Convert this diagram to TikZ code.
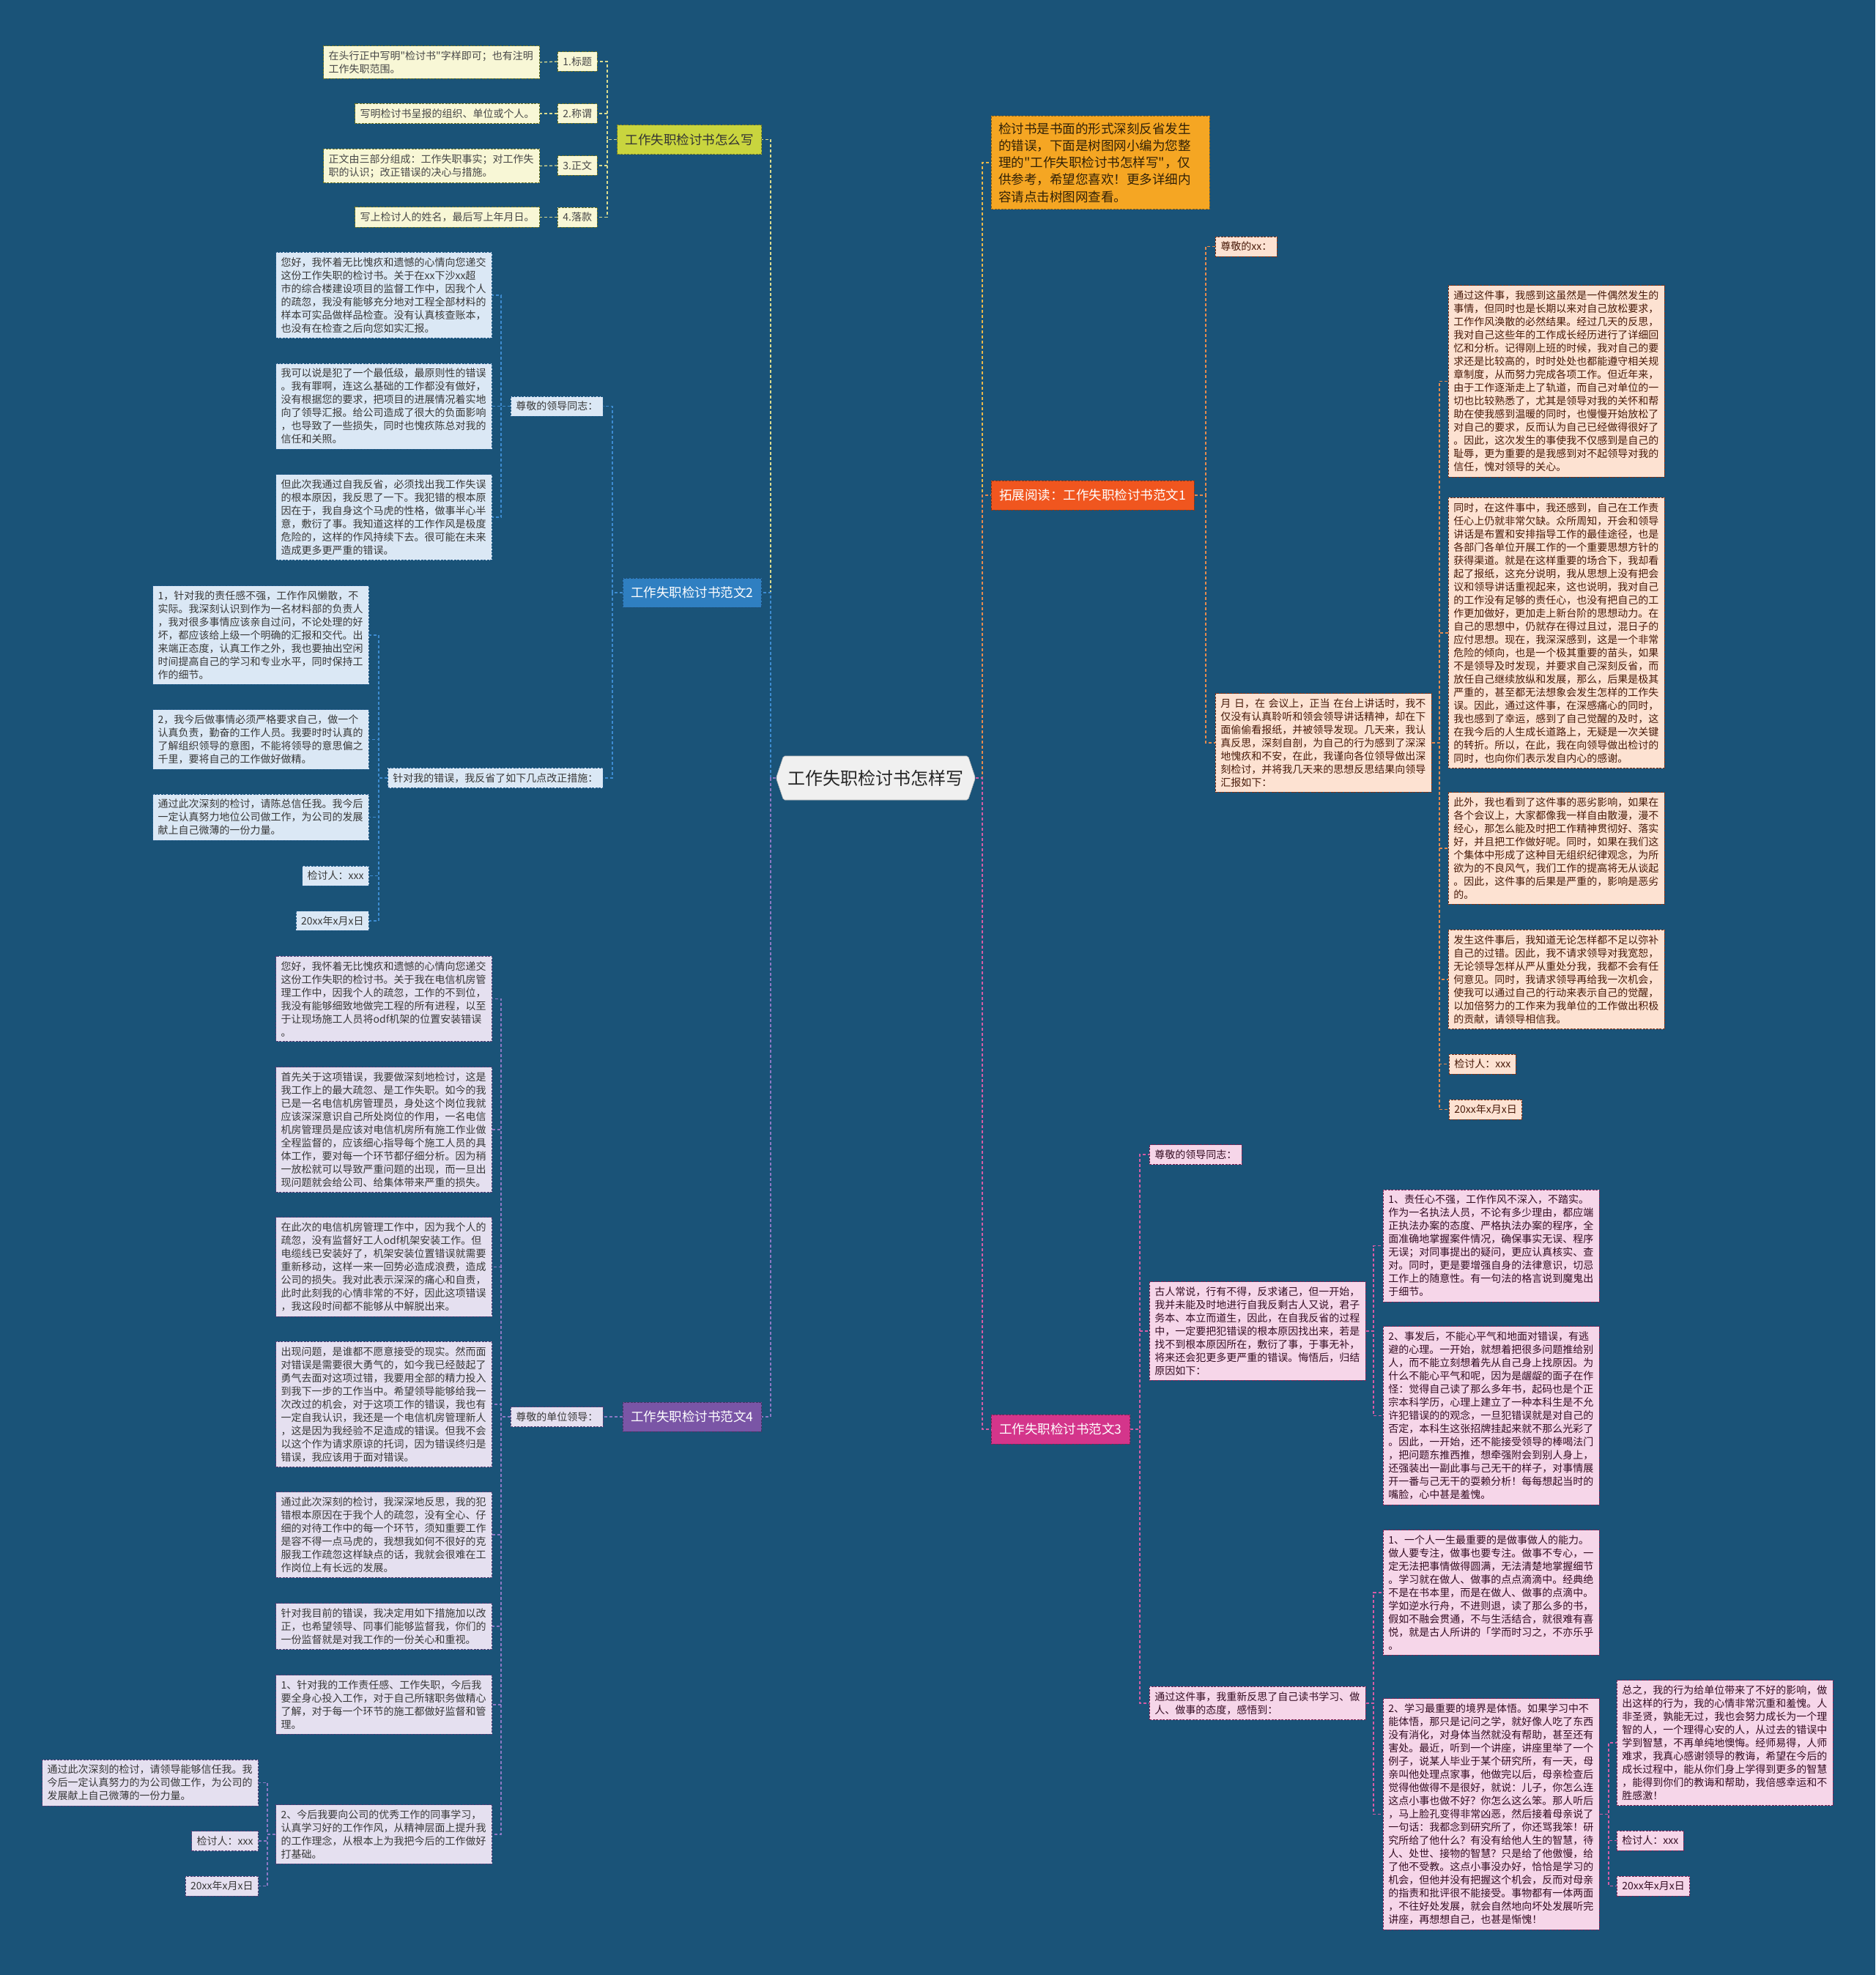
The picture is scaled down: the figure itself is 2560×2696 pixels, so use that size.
\documentclass[tikz,border=0pt]{standalone}
\usepackage{fontspec}
\newfontfamily\cjk{Noto Sans CJK SC}
\usetikzlibrary{shapes.symbols}
\definecolor{bgc}{HTML}{1A5378}
\definecolor{yfill}{HTML}{C9D53E}
\definecolor{ylfill}{HTML}{F8F7D6}
\definecolor{yline}{HTML}{DADB8E}
\definecolor{bfill}{HTML}{2F7FC1}
\definecolor{blfill}{HTML}{DBE8F5}
\definecolor{bline}{HTML}{3D8BD0}
\definecolor{pfill}{HTML}{7A55A6}
\definecolor{plfill}{HTML}{E5E0F0}
\definecolor{pline}{HTML}{8C78C4}
\definecolor{ifill}{HTML}{F5A623}
\definecolor{iline}{HTML}{E8B84A}
\definecolor{ofill}{HTML}{F0561F}
\definecolor{olfill}{HTML}{FDE2D2}
\definecolor{oline}{HTML}{E58A4E}
\definecolor{kfill}{HTML}{D4358B}
\definecolor{klfill}{HTML}{F6D6E9}
\definecolor{kline}{HTML}{D55CA5}
\tikzset{
  leaf/.style={draw, dash pattern=on 3pt off 1.5pt, line width=0.8pt, inner xsep=7pt, inner ysep=7pt, font=\cjk\fontsize{14}{18}\selectfont, align=left},
  yleaf/.style={leaf, fill=ylfill, draw=yfill!55!black, text=black!72},
  bleaf/.style={leaf, fill=blfill, draw=bfill!70!black, text=black!78},
  pleaf/.style={leaf, fill=plfill, draw=pfill!70!black, text=black!78},
  oleaf/.style={leaf, fill=olfill, draw=ofill!55!black, text=ofill!30!black},
  kleaf/.style={leaf, fill=klfill, draw=kfill!60!black, text=kfill!25!black},
  topic/.style={draw, dash pattern=on 3pt off 1.5pt, line width=0.8pt, inner xsep=11pt, inner ysep=4pt, minimum height=40pt, font=\cjk\fontsize{17.5}{21}\selectfont},
  conn/.style={dash pattern=on 4pt off 3pt, line width=1.3pt},
}
\begin{document}
\cjk
\begin{tikzpicture}[x=1pt,y=-1pt]
\useasboundingbox (0,0) rectangle (2560,2696);
\fill[bgc] (0,0) rectangle (2560,2696);

% trunk coordinates
\coordinate (tL) at (1052,0);
\coordinate (tR) at (1341,0);
\coordinate (tY) at (829,0);
\coordinate (tB1) at (836,0);
\coordinate (tBa) at (684,0);
\coordinate (tBb) at (517,0);
\coordinate (tP1) at (836,0);
\coordinate (tPa) at (684,0);
\coordinate (tPn) at (365,0);
\coordinate (tO) at (1646,0);
\coordinate (tOb) at (1965,0);
\coordinate (tK) at (1556,0);
\coordinate (tKb) at (1875,0);
\coordinate (tKs) at (2196,0);

% center
\node[signal, signal to=east and west, signal pointer angle=143, fill=black!6, draw=black!30, line width=0.6pt, rounded corners=2pt, minimum width=265pt, minimum height=60pt, inner xsep=6pt, font=\cjk\fontsize{24}{28}\selectfont, text=black!85] (c) at (1195.5,1062) {工作失职检讨书怎样写};

% level 1 topics
\node[topic, anchor=east, fill=yfill, draw=yfill!60!black, text=black!80] (b1) at (1040,190.5) {工作失职检讨书怎么写};
\node[topic, anchor=east, fill=bfill, draw=bfill!60!black, text=white] (b2) at (1040,809) {工作失职检讨书范文2};
\node[topic, anchor=east, fill=pfill, draw=pfill!60!black, text=white] (b4) at (1040,1934) {工作失职检讨书范文4};
\node[draw, dash pattern=on 3pt off 1.5pt, line width=0.8pt, anchor=west, fill=ifill, draw=ifill!60!black, text=ifill!20!black, text width=278pt, inner xsep=10pt, inner ysep=9pt, align=left, font=\cjk\fontsize{17.5}{23.3}\selectfont] (b5) at (1353,222) {检讨书是书面的形式深刻反省发生\\
的错误，下面是树图网小编为您整\\
理的"工作失职检讨书怎样写"，仅\\
供参考，希望您喜欢！更多详细内\\
容请点击树图网查看。};
\node[topic, anchor=west, fill=ofill, draw=ofill!60!black, text=white] (b6) at (1353,676) {拓展阅读：工作失职检讨书范文1};
\node[topic, anchor=west, fill=kfill, draw=kfill!60!black, text=white] (b7) at (1353,1951) {工作失职检讨书范文3};

% ---------- branch 1 (yellow) ----------
\node[yleaf, anchor=west] (y1l) at (761,84) {1.标题};
\node[yleaf, anchor=west] (y2l) at (761,155) {2.称谓};
\node[yleaf, anchor=west] (y3l) at (761,226) {3.正文};
\node[yleaf, anchor=west] (y4l) at (761,296.5) {4.落款};
\node[yleaf, anchor=east, text width=281pt] (y1b) at (737,85) {在头行正中写明"检讨书"字样即可；也有注明\\
工作失职范围。};
\node[yleaf, anchor=east] (y2b) at (737,155) {写明检讨书呈报的组织、单位或个人。};
\node[yleaf, anchor=east, text width=281pt] (y3b) at (737,226.5) {正文由三部分组成：工作失职事实；对工作失\\
职的认识；改正错误的决心与措施。};
\node[yleaf, anchor=east] (y4b) at (737,296.5) {写上检讨人的姓名，最后写上年月日。};

% ---------- branch 2 (blue) ----------
\node[bleaf, anchor=west] (la) at (697,554.5) {尊敬的领导同志：};
\node[bleaf, anchor=east, text width=281pt] (a1) at (672,403) {您好，我怀着无比愧疚和遗憾的心情向您递交\\
这份工作失职的检讨书。关于在xx下沙xx超\\
市的综合楼建设项目的监督工作中，因我个人\\
的疏忽，我没有能够充分地对工程全部材料的\\
样本可实品做样品检查。没有认真核查账本，\\
也没有在检查之后向您如实汇报。};
\node[bleaf, anchor=east, text width=281pt] (a2) at (672,554.5) {我可以说是犯了一个最低级，最原则性的错误\\
。我有罪啊，连这么基础的工作都没有做好，\\
没有根据您的要求，把项目的进展情况着实地\\
向了领导汇报。给公司造成了很大的负面影响\\
，也导致了一些损失，同时也愧疚陈总对我的\\
信任和关照。};
\node[bleaf, anchor=east, text width=281pt] (a3) at (672,706) {但此次我通过自我反省，必须找出我工作失误\\
的根本原因，我反思了一下。我犯错的根本原\\
因在于，我自身这个马虎的性格，做事半心半\\
意，敷衍了事。我知道这样的工作作风是极度\\
危险的，这样的作风持续下去。很可能在未来\\
造成更多更严重的错误。};
\node[bleaf, anchor=west] (lb) at (529,1062) {针对我的错误，我反省了如下几点改正措施：};
\node[bleaf, anchor=east, text width=281pt] (d1) at (504,867) {1，针对我的责任感不强，工作作风懒散，不\\
实际。我深刻认识到作为一名材料部的负责人\\
，我对很多事情应该亲自过问，不论处理的好\\
坏，都应该给上级一个明确的汇报和交代。出\\
来端正态度，认真工作之外，我也要抽出空闲\\
时间提高自己的学习和专业水平，同时保持工\\
作的细节。};
\node[bleaf, anchor=east, text width=281pt] (d2) at (504,1009.5) {2，我今后做事情必须严格要求自己，做一个\\
认真负责，勤奋的工作人员。我要时时认真的\\
了解组织领导的意图，不能将领导的意思偏之\\
千里，要将自己的工作做好做精。};
\node[bleaf, anchor=east, text width=281pt] (d3) at (504,1115.5) {通过此次深刻的检讨，请陈总信任我。我今后\\
一定认真努力地位公司做工作，为公司的发展\\
献上自己微薄的一份力量。};
\node[bleaf, anchor=east] (d4) at (504,1195.5) {检讨人：xxx};
\node[bleaf, anchor=east] (d5) at (504,1257) {20xx年x月x日};

% ---------- branch 4 (purple) ----------
\node[pleaf, anchor=west] (lc) at (697,1934) {尊敬的单位领导：};
\node[pleaf, anchor=east, text width=281pt] (g1) at (672,1363.5) {您好，我怀着无比愧疚和遗憾的心情向您递交\\
这份工作失职的检讨书。关于我在电信机房管\\
理工作中，因我个人的疏忽，工作的不到位，\\
我没有能够细致地做完工程的所有进程，以至\\
于让现场施工人员将odf机架的位置安装错误\\
。};
\node[pleaf, anchor=east, text width=281pt] (g2) at (672,1542) {首先关于这项错误，我要做深刻地检讨，这是\\
我工作上的最大疏忽、是工作失职。如今的我\\
已是一名电信机房管理员，身处这个岗位我就\\
应该深深意识自己所处岗位的作用，一名电信\\
机房管理员是应该对电信机房所有施工作业做\\
全程监督的，应该细心指导每个施工人员的具\\
体工作，要对每一个环节都仔细分析。因为稍\\
一放松就可以导致严重问题的出现，而一旦出\\
现问题就会给公司、给集体带来严重的损失。};
\node[pleaf, anchor=east, text width=281pt] (g3) at (672,1729.5) {在此次的电信机房管理工作中，因为我个人的\\
疏忽，没有监督好工人odf机架安装工作。但\\
电缆线已安装好了，机架安装位置错误就需要\\
重新移动，这样一来一回势必造成浪费，造成\\
公司的损失。我对此表示深深的痛心和自责，\\
此时此刻我的心情非常的不好，因此这项错误\\
，我这段时间都不能够从中解脱出来。};
\node[pleaf, anchor=east, text width=281pt] (g4) at (672,1917) {出现问题，是谁都不愿意接受的现实。然而面\\
对错误是需要很大勇气的，如今我已经鼓起了\\
勇气去面对这项过错，我要用全部的精力投入\\
到我下一步的工作当中。希望领导能够给我一\\
次改过的机会，对于这项工作的错误，我也有\\
一定自我认识，我还是一个电信机房管理新人\\
，这是因为我经验不足造成的错误。但我不会\\
以这个作为请求原谅的托词，因为错误终归是\\
错误，我应该用于面对错误。};
\node[pleaf, anchor=east, text width=281pt] (g5) at (672,2095) {通过此次深刻的检讨，我深深地反思，我的犯\\
错根本原因在于我个人的疏忽，没有全心、仔\\
细的对待工作中的每一个环节，须知重要工作\\
是容不得一点马虎的，我想我如何不很好的克\\
服我工作疏忽这样缺点的话，我就会很难在工\\
作岗位上有长远的发展。};
\node[pleaf, anchor=east, text width=281pt] (g6) at (672,2220) {针对我目前的错误，我决定用如下措施加以改\\
正，也希望领导、同事们能够监督我，你们的\\
一份监督就是对我工作的一份关心和重视。};
\node[pleaf, anchor=east, text width=281pt] (g7) at (672,2327) {1、针对我的工作责任感、工作失职，今后我\\
要全身心投入工作，对于自己所辖职务做精心\\
了解，对于每一个环节的施工都做好监督和管\\
理。};
\node[pleaf, anchor=east, text width=281pt] (g8) at (672,2504) {2、今后我要向公司的优秀工作的同事学习，\\
认真学习好的工作作风，从精神层面上提升我\\
的工作理念，从根本上为我把今后的工作做好\\
打基础。};
\node[pleaf, anchor=east, text width=281pt] (h1) at (353,2433.5) {通过此次深刻的检讨，请领导能够信任我。我\\
今后一定认真努力的为公司做工作，为公司的\\
发展献上自己微薄的一份力量。};
\node[pleaf, anchor=east] (h2) at (353,2513) {检讨人：xxx};
\node[pleaf, anchor=east] (h3) at (353,2574.5) {20xx年x月x日};

% ---------- branch right (orange) ----------
\node[oleaf, anchor=west] (oa) at (1659,336.5) {尊敬的xx：};
\node[oleaf, anchor=west, text width=281pt] (ob) at (1659,1014) {月 日，在 会议上，正当 在台上讲话时，我不\\
仅没有认真聆听和领会领导讲话精神，却在下\\
面偷偷看报纸，并被领导发现。几天来，我认\\
真反思，深刻自剖，为自己的行为感到了深深\\
地愧疚和不安，在此，我谨向各位领导做出深\\
刻检讨，并将我几天来的思想反思结果向领导\\
汇报如下：};
\node[oleaf, anchor=west, text width=281pt] (p1) at (1977,520.5) {通过这件事，我感到这虽然是一件偶然发生的\\
事情，但同时也是长期以来对自己放松要求，\\
工作作风涣散的必然结果。经过几天的反思，\\
我对自己这些年的工作成长经历进行了详细回\\
忆和分析。记得刚上班的时候，我对自己的要\\
求还是比较高的，时时处处也都能遵守相关规\\
章制度，从而努力完成各项工作。但近年来，\\
由于工作逐渐走上了轨道，而自己对单位的一\\
切也比较熟悉了，尤其是领导对我的关怀和帮\\
助在使我感到温暖的同时，也慢慢开始放松了\\
对自己的要求，反而认为自己已经做得很好了\\
。因此，这次发生的事使我不仅感到是自己的\\
耻辱，更为重要的是我感到对不起领导对我的\\
信任，愧对领导的关心。};
\node[oleaf, anchor=west, text width=281pt] (p2) at (1977,864) {同时，在这件事中，我还感到，自己在工作责\\
任心上仍就非常欠缺。众所周知，开会和领导\\
讲话是布置和安排指导工作的最佳途径，也是\\
各部门各单位开展工作的一个重要思想方针的\\
获得渠道。就是在这样重要的场合下，我却看\\
起了报纸，这充分说明，我从思想上没有把会\\
议和领导讲话重视起来，这也说明，我对自己\\
的工作没有足够的责任心，也没有把自己的工\\
作更加做好，更加走上新台阶的思想动力。在\\
自己的思想中，仍就存在得过且过，混日子的\\
应付思想。现在，我深深感到，这是一个非常\\
危险的倾向，也是一个极其重要的苗头，如果\\
不是领导及时发现，并要求自己深刻反省，而\\
放任自己继续放纵和发展，那么，后果是极其\\
严重的，甚至都无法想象会发生怎样的工作失\\
误。因此，通过这件事，在深感痛心的同时，\\
我也感到了幸运，感到了自己觉醒的及时，这\\
在我今后的人生成长道路上，无疑是一次关键\\
的转折。所以，在此，我在向领导做出检讨的\\
同时，也向你们表示发自内心的感谢。};
\node[oleaf, anchor=west, text width=281pt] (p3) at (1977,1158) {此外，我也看到了这件事的恶劣影响，如果在\\
各个会议上，大家都像我一样自由散漫，漫不\\
经心，那怎么能及时把工作精神贯彻好、落实\\
好，并且把工作做好呢。同时，如果在我们这\\
个集体中形成了这种目无组织纪律观念，为所\\
欲为的不良风气，我们工作的提高将无从谈起\\
。因此，这件事的后果是严重的，影响是恶劣\\
的。};
\node[oleaf, anchor=west, text width=281pt] (p4) at (1977,1337) {发生这件事后，我知道无论怎样都不足以弥补\\
自己的过错。因此，我不请求领导对我宽恕，\\
无论领导怎样从严从重处分我，我都不会有任\\
何意见。同时，我请求领导再给我一次机会，\\
使我可以通过自己的行动来表示自己的觉醒，\\
以加倍努力的工作来为我单位的工作做出积极\\
的贡献，请领导相信我。};
\node[oleaf, anchor=west] (p5) at (1978,1452.5) {检讨人：xxx};
\node[oleaf, anchor=west] (p6) at (1978,1514.5) {20xx年x月x日};

% ---------- branch 3 (pink) ----------
\node[kleaf, anchor=west] (ka) at (1569,1576) {尊敬的领导同志：};
\node[kleaf, anchor=west, text width=281pt] (kb) at (1569,1817) {古人常说，行有不得，反求诸己，但一开始，\\
我并未能及时地进行自我反剩古人又说，君子\\
务本、本立而道生，因此，在自我反省的过程\\
中，一定要把犯错误的根本原因找出来，若是\\
找不到根本原因所在，敷衍了事，于事无补，\\
将来还会犯更多更严重的错误。悔悟后，归结\\
原因如下：};
\node[kleaf, anchor=west, text width=281pt] (kc) at (1569,2325) {通过这件事，我重新反思了自己读书学习、做\\
人、做事的态度，感悟到：};
\node[kleaf, anchor=west, text width=281pt] (q1) at (1888,1700.5) {1、责任心不强，工作作风不深入，不踏实。\\
作为一名执法人员，不论有多少理由，都应端\\
正执法办案的态度、严格执法办案的程序，全\\
面准确地掌握案件情况，确保事实无误、程序\\
无误；对同事提出的疑问，更应认真核实、查\\
对。同时，更是要增强自身的法律意识，切忌\\
工作上的随意性。有一句法的格言说到魔鬼出\\
于细节。};
\node[kleaf, anchor=west, text width=281pt] (q2) at (1888,1932.5) {2、事发后，不能心平气和地面对错误，有逃\\
避的心理。一开始，就想着把很多问题推给别\\
人，而不能立刻想着先从自己身上找原因。为\\
什么不能心平气和呢，因为是龌龊的面子在作\\
怪：觉得自己读了那么多年书，起码也是个正\\
宗本科学历，心理上建立了一种本科生是不允\\
许犯错误的的观念，一旦犯错误就是对自己的\\
否定，本科生这张招牌挂起来就不那么光彩了\\
。因此，一开始，还不能接受领导的棒喝法门\\
，把问题东推西推，想牵强附会到别人身上，\\
还强装出一副此事与己无干的样子，对事情展\\
开一番与己无干的耍赖分析！每每想起当时的\\
嘴脸，心中甚是羞愧。};
\node[kleaf, anchor=west, text width=281pt] (r1) at (1888,2174) {1、一个人一生最重要的是做事做人的能力。\\
做人要专注，做事也要专注。做事不专心，一\\
定无法把事情做得圆满，无法清楚地掌握细节\\
。学习就在做人、做事的点点滴滴中。经典绝\\
不是在书本里，而是在做人、做事的点滴中。\\
学如逆水行舟，不进则退，读了那么多的书，\\
假如不融会贯通，不与生活结合，就很难有喜\\
悦，就是古人所讲的「学而时习之，不亦乐乎\\
。};
\node[kleaf, anchor=west, text width=281pt] (r2) at (1888,2476.5) {2、学习最重要的境界是体悟。如果学习中不\\
能体悟，那只是记问之学，就好像人吃了东西\\
没有消化，对身体当然就没有帮助，甚至还有\\
害处。最近，听到一个讲座，讲座里举了一个\\
例子，说某人毕业于某个研究所，有一天，母\\
亲叫他处理点家事，他做完以后，母亲检查后\\
觉得他做得不是很好，就说：儿子，你怎么连\\
这点小事也做不好？你怎么这么笨。那人听后\\
，马上脸孔变得非常凶恶，然后接着母亲说了\\
一句话：我都念到研究所了，你还骂我笨！研\\
究所给了他什么？有没有给他人生的智慧，待\\
人、处世、接物的智慧？只是给了他傲慢，给\\
了他不受教。这点小事没办好，恰恰是学习的\\
机会，但他并没有把握这个机会，反而对母亲\\
的指责和批评很不能接受。事物都有一体两面\\
，不往好处发展，就会自然地向坏处发展听完\\
讲座，再想想自己，也甚是惭愧！};
\node[kleaf, anchor=west, text width=281pt] (s1) at (2207,2379) {总之，我的行为给单位带来了不好的影响，做\\
出这样的行为，我的心情非常沉重和羞愧。人\\
非圣贤，孰能无过，我也会努力成长为一个理\\
智的人，一个理得心安的人，从过去的错误中\\
学到智慧，不再单纯地懊悔。经师易得，人师\\
难求，我真心感谢领导的教诲，希望在今后的\\
成长过程中，能从你们身上学得到更多的智慧\\
，能得到你们的教诲和帮助，我倍感幸运和不\\
胜感激！};
\node[kleaf, anchor=west] (s2) at (2207,2512.5) {检讨人：xxx};
\node[kleaf, anchor=west] (s3) at (2207,2574.5) {20xx年x月x日};

% ---------- connectors ----------
% main
\draw[conn, draw=yline] (c.west) -- (c.west -| tL) |- (b1.east);
\draw[conn, draw=bline] (c.west) -- (c.west -| tL) |- (b2.east);
\draw[conn, draw=pline] (c.west) -- (c.west -| tL) |- (b4.east);
\draw[conn, draw=iline] (c.east) -- (c.east -| tR) |- (b5.west);
\draw[conn, draw=oline] (c.east) -- (c.east -| tR) |- (b6.west);
\draw[conn, draw=kline] (c.east) -- (c.east -| tR) |- (b7.west);
% yellow
\foreach \l/\b in {y1l/y1b, y2l/y2b, y3l/y3b, y4l/y4b}{
  \draw[conn, draw=yline] (b1.west) -- (b1.west -| tY) |- (\l.east);
  \draw[conn, draw=yline] (\l.west) -- (\b.east);
}
% blue
\draw[conn, draw=bline] (b2.west) -- (b2.west -| tB1) |- (la.east);
\draw[conn, draw=bline] (b2.west) -- (b2.west -| tB1) |- (lb.east);
\foreach \n in {a1,a2,a3}{\draw[conn, draw=bline] (la.west) -- (la.west -| tBa) |- (\n.east);}
\foreach \n in {d1,d2,d3,d4,d5}{\draw[conn, draw=bline] (lb.west) -- (lb.west -| tBb) |- (\n.east);}
% purple
\draw[conn, draw=pline] (b4.west) -- (b4.west -| tP1) |- (lc.east);
\foreach \n in {g1,g2,g3,g4,g5,g6,g7,g8}{\draw[conn, draw=pline] (lc.west) -- (lc.west -| tPa) |- (\n.east);}
\foreach \n in {h1,h2,h3}{\draw[conn, draw=pline] (g8.west) -- (g8.west -| tPn) |- (\n.east);}
% orange
\draw[conn, draw=oline] (b6.east) -- (b6.east -| tO) |- (oa.west);
\draw[conn, draw=oline] (b6.east) -- (b6.east -| tO) |- (ob.west);
\foreach \n in {p1,p2,p3,p4,p5,p6}{\draw[conn, draw=oline] (ob.east) -- (ob.east -| tOb) |- (\n.west);}
% pink
\draw[conn, draw=kline] (b7.east) -- (b7.east -| tK) |- (ka.west);
\draw[conn, draw=kline] (b7.east) -- (b7.east -| tK) |- (kb.west);
\draw[conn, draw=kline] (b7.east) -- (b7.east -| tK) |- (kc.west);
\foreach \n in {q1,q2}{\draw[conn, draw=kline] (kb.east) -- (kb.east -| tKb) |- (\n.west);}
\foreach \n in {r1,r2}{\draw[conn, draw=kline] (kc.east) -- (kc.east -| tKb) |- (\n.west);}
\foreach \n in {s1,s2,s3}{\draw[conn, draw=kline] (r2.east) -- (r2.east -| tKs) |- (\n.west);}
\end{tikzpicture}
\end{document}
